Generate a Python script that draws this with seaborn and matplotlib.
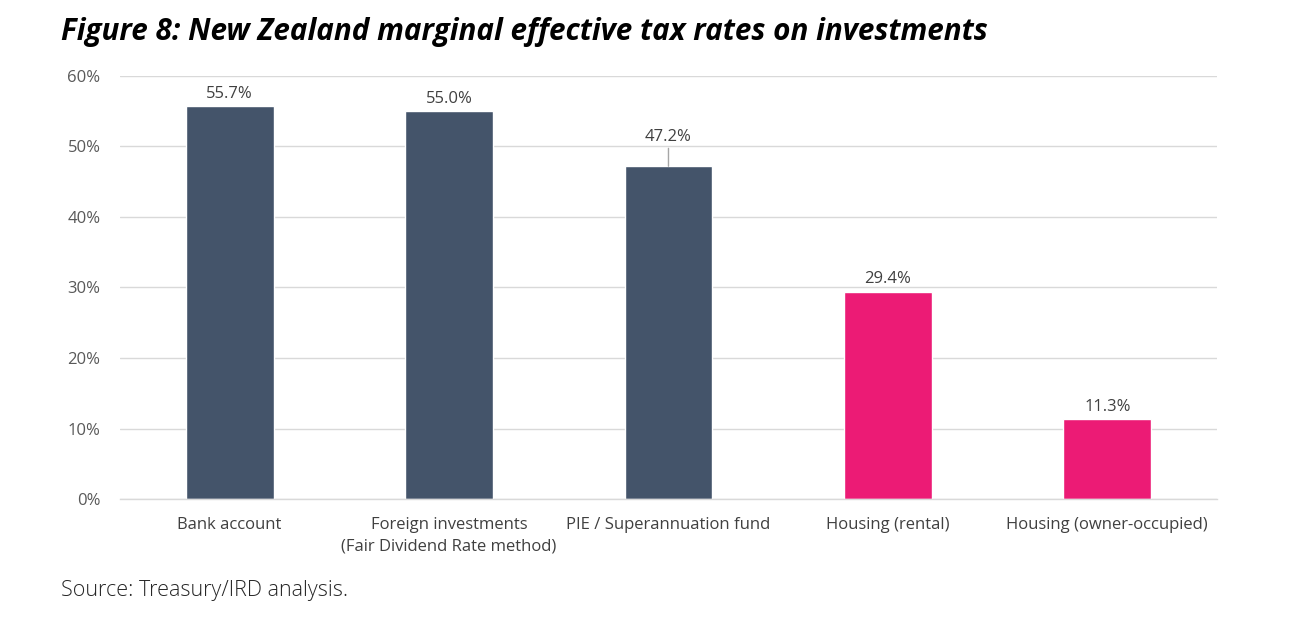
import matplotlib
matplotlib.use("Agg")
import matplotlib.pyplot as plt
import seaborn as sns
import pandas as pd

categories = ["Bank account", "Foreign investments\n(Fair Dividend Rate method)",
              "PIE / Superannuation fund", "Housing (rental)", "Housing (owner-occupied)"]
values = [55.7, 55.0, 47.2, 29.4, 11.3]
groups = ["financial", "financial", "financial", "housing", "housing"]
value_labels = ["55.7%", "55.0%", "47.2%", "29.4%", "11.3%"]
y_ticks = [0, 10, 20, 30, 40, 50, 60]
y_tick_labels = ["0%", "10%", "20%", "30%", "40%", "50%", "60%"]

title = "Figure 8: New Zealand marginal effective tax rates on investments"
source = "Source: Treasury/IRD analysis."

sns.set_theme(style="white")
plt.rcParams["font.family"] = ["Open Sans", "DejaVu Sans"]

df = pd.DataFrame({"cat": categories, "val": values, "grp": groups})
palette = {"financial": "#44546A", "housing": "#EC1B75"}

fig = plt.figure(figsize=(12.9, 6.28), dpi=100)
ax = fig.add_axes([0.093, 0.2054, 0.8504, 0.6736])

sns.barplot(data=df, x="cat", y="val", hue="grp", palette=palette,
            dodge=False, width=0.40, legend=False, ax=ax, saturation=1)

ax.set_xlim(-0.5, len(categories) - 0.5)
ax.set_ylim(0, 60)
ax.set_yticks(y_ticks)
ax.set_yticklabels(y_tick_labels)
ax.yaxis.grid(True, color="#D9D9D9", linewidth=1)
ax.set_axisbelow(True)
for s in ["top", "right", "left"]:
    ax.spines[s].set_visible(False)
ax.spines["bottom"].set_color("#D9D9D9")
ax.spines["bottom"].set_linewidth(1)
ax.set_xlabel("")
ax.set_ylabel("")
ax.tick_params(axis="both", length=0, colors="#595959", labelsize=12)
ax.tick_params(axis="x", pad=13)
ax.tick_params(axis="y", pad=14)
for t in ax.get_xticklabels():
    t.set_color("#404040")
    t.set_linespacing(1.45)

for i, (v, lab) in enumerate(zip(values, value_labels)):
    if i == 2:
        ax.annotate(lab, xy=(i, v), xytext=(i, v + 3.0), ha="center", va="bottom",
                    fontsize=12, color="#404040",
                    arrowprops=dict(arrowstyle="-", color="#A6A6A6", lw=1,
                                    shrinkA=0, shrinkB=0))
    else:
        ax.text(i, v + 0.6, lab, ha="center", va="bottom", fontsize=12, color="#404040")

fig.text(0.047, 0.949, title, fontsize=21.3, fontweight="bold", fontstyle="italic",
         color="#000000", ha="left", va="center")
fig.text(0.047, 0.06, source, fontsize=15.5, fontweight="light", color="#262626",
         ha="left", va="center")

fig.savefig("out.png", dpi=100)
